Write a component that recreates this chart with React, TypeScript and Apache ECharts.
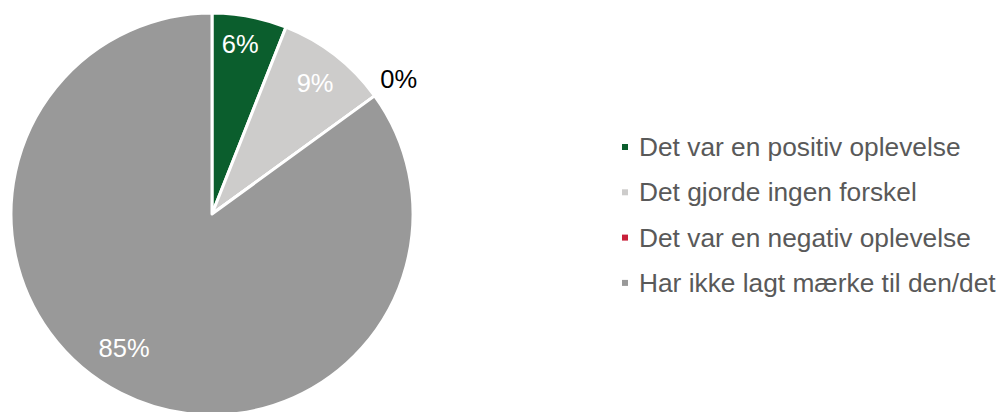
import React, { useEffect, useRef } from "react";
import * as echarts from "echarts";

const categories = [
  "Det var en positiv oplevelse",
  "Det gjorde ingen forskel",
  "Det var en negativ oplevelse",
  "Har ikke lagt mærke til den/det",
];
const values = [6, 9, 0, 85];
const colors = ["#0B5E2D", "#CDCCCB", "#C8203A", "#999999"];
const labelColors = ["#FFFFFF", "#FFFFFF", "#000000", "#FFFFFF"];
const labelShift = [
  [-4, -2],
  [-2, 5],
  [-4, -10],
  [-10, -19],
];

export default function App() {
  const ref = useRef<HTMLDivElement>(null);
  useEffect(() => {
    if (!ref.current) return;
    const chart = echarts.init(ref.current, null, { renderer: "svg" });
    const font = "Liberation Sans, Arial, sans-serif";
    chart.setOption({
      animation: false,
      backgroundColor: "#FFFFFF",
      legend: {
        orient: "vertical",
        left: 617,
        top: 129,
        icon: "rect",
        itemWidth: 6,
        itemHeight: 6,
        itemGap: 19.3,
        itemStyle: { borderWidth: 0 },
        data: categories,
        textStyle: {
          fontFamily: font,
          fontSize: 26.3,
          color: "#595959",
          lineHeight: 26,
          padding: [0, 0, 0, 6],
        },
      },
      series: [
        {
          type: "pie",
          center: [212, 214],
          radius: [0, 201],
          startAngle: 90,
          clockwise: true,
          silent: true,
          label: { show: false },
          labelLine: { show: false },
          itemStyle: { borderColor: "#FFFFFF", borderWidth: 3 },
          data: categories.map((name, i) => ({
            name,
            value: values[i],
            itemStyle: { color: colors[i] },
          })),
        },
        {
          type: "pie",
          center: [212, 214],
          radius: [136, 201],
          startAngle: 90,
          clockwise: true,
          silent: true,
          legendHoverLink: false,
          itemStyle: { color: "transparent", borderWidth: 0 },
          labelLine: { show: false, length: 12, length2: 0 },
          label: {
            show: true,
            position: "inside",
            fontFamily: font,
            fontSize: 25.5,
            formatter: (p: any) => p.value + "%",
          },
          labelLayout: (p: any) => ({
            dx: labelShift[p.dataIndex][0],
            dy: labelShift[p.dataIndex][1],
          }),
          data: categories.map((name, i) => ({
            name: name + " ",
            value: values[i],
            label:
              values[i] === 0
                ? { position: "outside", color: labelColors[i], distanceToLabelLine: 0 }
                : { color: labelColors[i] },
          })),
        },
      ],
    });
    return () => chart.dispose();
  }, []);
  return (
    <div
      ref={ref}
      style={{ position: "fixed", left: 0, top: 0, width: 1004, height: 412 }}
    />
  );
}
